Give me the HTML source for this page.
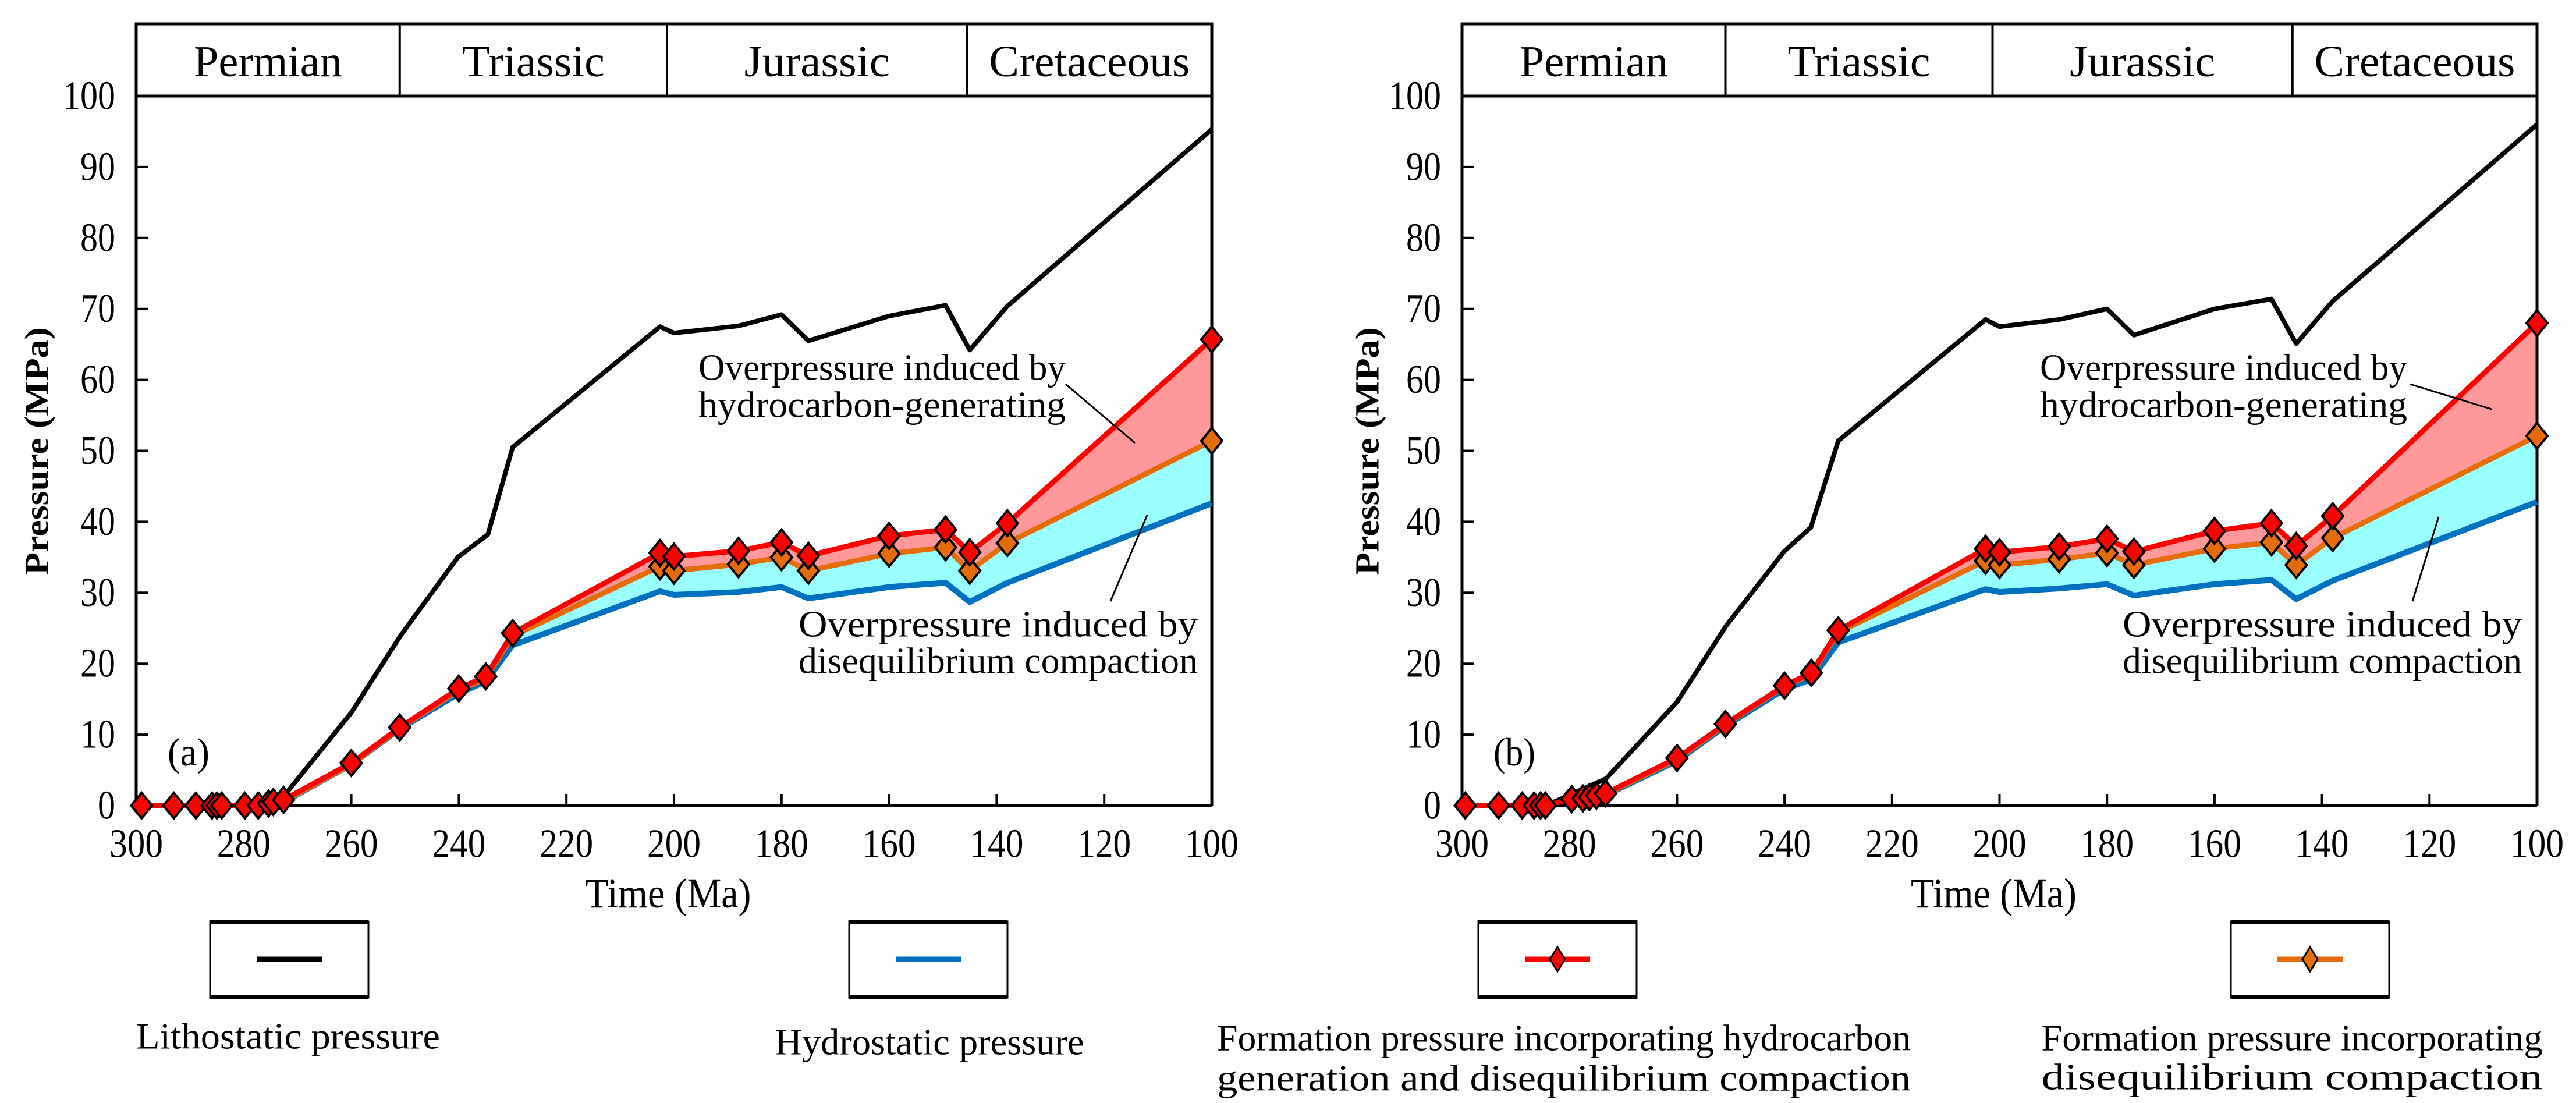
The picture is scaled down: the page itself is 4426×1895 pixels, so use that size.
<!DOCTYPE html>
<html><head><meta charset="utf-8"><style>
html,body{margin:0;padding:0;background:#fff;}
svg{display:block;}
text{font-family:"Liberation Serif","DejaVu Serif",serif;fill:#000;}
</style></head><body>
<svg id="chart" width="4426" height="1895" viewBox="0 0 4426 1895" xmlns="http://www.w3.org/2000/svg"></svg>
<script>
// ---- data (Ma, MPa) ----
const xTicks = [300,280,260,240,220,200,180,160,140,120,100];
const yTicks = [0,10,20,30,40,50,60,70,80,90,100];
const periods = ["Permian","Triassic","Jurassic","Cretaceous"];
const periodBounds = [300,251,201.3,145.5,100];

// Panel (a)
const aLithoT = [273,260,250.8,240.2,234.6,230,202.6,200,188,180,175,160,149.5,145,138,100];
const aLithoP = [0.9,13.1,24,35,38.2,50.5,67.5,66.6,67.6,69.2,65.5,69,70.5,64.2,70.4,95.3];
const aHydroT = [273,260,251,240,235,230,202.6,200,188,180,175,160,149.5,145,138,100];
const aHydroP = [0.3,5.8,10.8,15.8,17.5,22.6,30.2,29.7,30.1,30.8,29.2,30.8,31.4,28.7,31.4,42.6];
const aOrangeT = [273,260,251,240,235,230,202.6,200,188,180,175,160,149.5,145,138,100];
const aOrangeP = [0.4,5.8,10.9,16.2,17.9,23.9,33.7,33.1,34,35,33.1,35.5,36.4,33.1,37,51.4];
const aRedT = [299,293,288.9,285.9,285,284.1,279.8,277.3,275.4,274.5,272.6,260,251,240,235,230,202.6,200,188,180,175,160,149.5,145,138,100];
const aRedP = [0,0,0,0,0,0,0,0,0.3,0.5,0.8,6,11,16.5,18.2,24.3,35.6,35.1,35.9,37.1,35.2,38,38.9,35.7,39.8,65.7];

// Panel (b)
const bLithoT = [282.9,273.2,260,250.9,240.1,235.1,230,202.6,200,188.9,180,175,160,149.4,144.8,138,100];
const bLithoP = [0.5,3.8,14.6,25.3,35.8,39.2,51.4,68.5,67.5,68.5,70,66.3,70,71.4,65.1,71.1,96];
const bHydroT = [279.6,273.2,260,251,240,235,230,202.6,200,188.9,180,175,160,149.4,144.8,138,100];
const bHydroP = [0.8,1.5,6.3,11.2,16.4,17.8,23,30.5,30.1,30.6,31.2,29.6,31.2,31.8,29.1,31.7,42.8];
const bOrangeT = [279.6,273.2,260,251,240,235,230,202.6,200,188.9,180,175,160,149.4,144.8,138,100];
const bOrangeP = [0.9,1.6,6.5,11.4,16.8,18.5,24.4,34.5,33.9,34.7,35.6,33.9,36.2,37.1,33.9,37.7,52.1];
const bRedT = [299.4,293.2,288.8,286.6,285.4,284.5,279.6,277.5,276.3,275,273.3,260,251,240,235,230,202.6,200,188.9,180,175,160,149.4,144.8,138,100];
const bRedP = [0,0,0,0,0,0,0.9,1.0,1.2,1.4,1.7,6.7,11.5,16.9,18.7,24.7,36.2,35.7,36.5,37.6,35.8,38.7,39.8,36.6,40.8,68];

const NS = "http://www.w3.org/2000/svg";
const svg = document.getElementById("chart");
function el(tag, attrs, parent){
  const e = document.createElementNS(NS, tag);
  for (const k in attrs) e.setAttribute(k, attrs[k]);
  (parent||svg).appendChild(e);
  return e;
}
function txt(str, x, y, size, parent, extra){
  const t = el("text", Object.assign({x:x, y:y, "font-size":size, "text-anchor":"middle", "dominant-baseline":"central"}, extra||{}), parent);
  t.textContent = str;
  return t;
}

function panel(cfg){
  const g = el("g", {});
  
  
  const x0=cfg.x0, x1=cfg.x1, y0=1384, y1=165;
  const X = t => x0 + (300-t)/200*(x1-x0);
  const Y = p => y0 - p/100*(y0-y1);

  let d = cfg.oT.map((t,i)=>(i?"L":"M")+X(t)+","+Y(cfg.oP[i])).join("");
  for (let i=cfg.hT.length-1;i>=0;i--) d += "L"+X(cfg.hT[i])+","+Y(cfg.hP[i]);
  const cy = el("path", {d:d+"Z", fill:"#99ffff", stroke:"none"}, g);
  
  
  const redSub = cfg.rT.map((t,i)=>[t,cfg.rP[i]]).filter(p=>p[0]<=cfg.oT[0]);
  let d2 = redSub.map((p,i)=>(i?"L":"M")+X(p[0])+","+Y(p[1])).join("");
  for (let i=cfg.oT.length-1;i>=0;i--) d2 += "L"+X(cfg.oT[i])+","+Y(cfg.oP[i]);
  const pk = el("path", {d:d2+"Z", fill:"#ff9999", stroke:"none"}, g);
  
  

  const hb = el("rect", {x:x0, y:41, width:x1-x0, height:y1-41, fill:"none", stroke:"#000", "stroke-width":5}, g);
  
  
  const pw = [255,245,250,345];
  for (let i=0;i<periods.length;i++){
    if (i>0) el("line", {x1:X(periodBounds[i]), x2:X(periodBounds[i]), y1:41, y2:y1, stroke:"#000","stroke-width":4}, g);
    const t = txt(periods[i], (X(periodBounds[i])+X(periodBounds[i+1]))/2, 106, 76, g, {textLength:pw[i], lengthAdjust:"spacingAndGlyphs"});
    
    
  }

  el("line", {x1:x0, x2:x0, y1:y1, y2:y0, stroke:"#000", "stroke-width":5}, g);
  el("line", {x1:x0, x2:x1, y1:y0, y2:y0, stroke:"#000", "stroke-width":5}, g);
  el("line", {x1:x1, x2:x1, y1:y1, y2:y0, stroke:"#000", "stroke-width":5}, g);
  yTicks.forEach(v=>{
    el("line", {x1:x0, x2:x0+20, y1:Y(v), y2:Y(v), stroke:"#000","stroke-width":4}, g);
    const s = String(v);
    const t = txt(s, x0-36, Y(v), 70, g, {"text-anchor":"end", textLength:s.length*30, lengthAdjust:"spacingAndGlyphs"});
    
    
  });
  xTicks.forEach(v=>{
    el("line", {x1:X(v), x2:X(v), y1:y0, y2:y0-20, stroke:"#000","stroke-width":4}, g);
    const t = txt(String(v), X(v), 1450, 70, g, {textLength:92, lengthAdjust:"spacingAndGlyphs"});
    
    
  });
  const yt = txt("Pressure (MPa)", 0, 0, 58, g, {transform:"translate("+cfg.ytx+",775) rotate(-90)", "font-weight":"bold", textLength:426, lengthAdjust:"spacingAndGlyphs"});
  
  
  const xt = txt("Time (Ma)", (x0+x1)/2-10, 1535, 72, g, {textLength:285, lengthAdjust:"spacingAndGlyphs"});
  
  
  const pl = txt(cfg.label, x0+90, 1292, 68, g, {textLength:72, lengthAdjust:"spacingAndGlyphs"});
  
  

  function series(T,P,color,w,name){
    const pth = el("polyline", {points:T.map((t,i)=>X(t)+","+Y(P[i])).join(" "), fill:"none", stroke:color, "stroke-width":w, "stroke-linejoin":"round"}, g);
    
    
  }
  function markers(T,P,color,name){
    T.forEach((t,i)=>{
      const x=X(t), y=Y(P[i]);
      const m = el("polygon", {points:`${x},${y-22} ${x+18},${y} ${x},${y+22} ${x-18},${y}`, fill:color, stroke:"#000","stroke-width":4,"stroke-linejoin":"miter"}, g);
      
      
    });
  }
  series(cfg.hT, cfg.hP, "#0070c0", 10, "hydrostatic-line");
  series(cfg.lT, cfg.lP, "#000", 8, "lithostatic-line");
  series(cfg.oT, cfg.oP, "#e46c0a", 9, "formation-pressure-compaction-line");
  series(cfg.rT, cfg.rP, "#ff0000", 9, "formation-pressure-hc-line");
  markers(cfg.oT.filter(t=>t<=203), cfg.oP.filter((p,i)=>cfg.oT[i]<=203), "#e46c0a", "compaction-marker");
  markers(cfg.rT, cfg.rP, "#ff0000", "hc-marker");

  const A = cfg.ann;
  const t1 = txt("Overpressure induced by", A.t1x, 631, 64, g, {"text-anchor":"start", textLength:631, lengthAdjust:"spacingAndGlyphs"});
  
  
  const t2 = txt("hydrocarbon-generating", A.t1x, 695, 64, g, {"text-anchor":"start", textLength:631, lengthAdjust:"spacingAndGlyphs"});
  
  
  el("line", {x1:A.l1[0], y1:A.l1[1], x2:A.l1[2], y2:A.l1[3], stroke:"#000","stroke-width":3}, g);
  const t3 = txt("Overpressure  induced  by", A.t2x, 1072, 64, g, {"text-anchor":"start", textLength:686, lengthAdjust:"spacingAndGlyphs"});
  
  
  const t4 = txt("disequilibrium compaction", A.t2x, 1135, 64, g, {"text-anchor":"start", textLength:686, lengthAdjust:"spacingAndGlyphs"});
  
  
  el("line", {x1:A.l2[0], y1:A.l2[1], x2:A.l2[2], y2:A.l2[3], stroke:"#000","stroke-width":3}, g);
}

panel({name:"panel-a", label:"(a)", x0:234, x1:2082, ytx:63,
  lT:aLithoT, lP:aLithoP, hT:aHydroT, hP:aHydroP, oT:aOrangeT, oP:aOrangeP, rT:aRedT, rP:aRedP,
  ann:{t1x:1200, t2x:1372, l1:[1831,660,1950,761], l2:[1971,885,1908,1033]}});
panel({name:"panel-b", label:"(b)", x0:2512, x1:4359, ytx:2349,
  lT:bLithoT, lP:bLithoP, hT:bHydroT, hP:bHydroP, oT:bOrangeT, oP:bOrangeP, rT:bRedT, rP:bRedP,
  ann:{t1x:3505, t2x:3647, l1:[4141,660,4281,703], l2:[4190,888,4145,1033]}});

const legendItems = [
  {bx:361, color:"#000", marker:false, name:"legend-lithostatic", lines:["Lithostatic pressure"], tx:495, tw:522, ty:[1780]},
  {bx:1459, color:"#0070c0", marker:false, name:"legend-hydrostatic", lines:["Hydrostatic pressure"], tx:1597, tw:531, ty:[1790]},
  {bx:2540, color:"#ff0000", marker:true, name:"legend-formation-hc", lines:["Formation pressure incorporating hydrocarbon","generation  and  disequilibrium  compaction"], tx:2687, tw:1192, ty:[1783,1852]},
  {bx:3833, color:"#e46c0a", marker:true, name:"legend-formation-compaction", lines:["Formation pressure incorporating","disequilibrium  compaction"], tx:3938, tw:861, ty:[1783,1850]}
];
legendItems.forEach(it=>{
  const g = el("g", {});
  
  
  el("rect", {x:it.bx, y:1583, width:272, height:131, fill:"#fff", stroke:"#000", "stroke-width":3}, g);
  el("line", {x1:it.bx, x2:it.bx+272, y1:1584, y2:1584, stroke:"#000","stroke-width":6}, g);
  el("line", {x1:it.bx, x2:it.bx+272, y1:1713, y2:1713, stroke:"#000","stroke-width":6}, g);
  const cx = it.bx+136;
  el("line", {x1:cx-56, x2:cx+56, y1:1648, y2:1648, stroke:it.color, "stroke-width":9}, g);
  if (it.marker) el("polygon", {points:`${cx},${1627} ${cx+13},${1648} ${cx},${1669} ${cx-13},${1648}`, fill:it.color, stroke:"#000","stroke-width":3}, g);
  it.lines.forEach((s,i)=>{
    txt(s, it.tx, it.ty[i], 64, g, {"text-anchor":"middle", textLength:it.tw, lengthAdjust:"spacingAndGlyphs"});
  });
});
</script>
</body></html>
